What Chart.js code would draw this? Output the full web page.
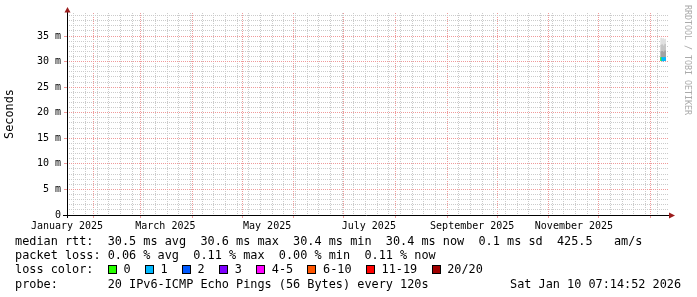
<!DOCTYPE html>
<html>
<head>
<meta charset="utf-8">
<script src="https://cdn.jsdelivr.net/npm/chart.js@4/dist/chart.umd.min.js"></script>
<style>
  html, body { margin: 0; padding: 0; background: #fff; }
  #wrap { position: relative; width: 697px; height: 297px; overflow: hidden; background: #fff; }
  #chart { position: absolute; left: 0; top: 0; }
  .lg { position: absolute; left: 15px; font-family: "DejaVu Sans Mono", monospace; font-size: 11.85px; line-height: 14px; white-space: pre; color: #000; }
  .box { display: inline-block; width: 9px; height: 9px; box-sizing: border-box; border: 1px solid #000; margin-right: 6.7px; vertical-align: -1px; }
  #wm { position: absolute; left: 683px; top: 5px; writing-mode: vertical-rl; font-family: "DejaVu Sans Mono", monospace; font-size: 8.3px; line-height: 9px; color: #aaa; white-space: pre; }
</style>
</head>
<body>
<div id="wrap">
  <canvas id="chart" width="697" height="297"></canvas>
  <div class="lg" style="top:234px">median rtt:  30.5 ms avg  30.6 ms max  30.4 ms min  30.4 ms now  0.1 ms sd  425.5   am/s</div>
  <div class="lg" style="top:248px">packet loss: 0.06 % avg  0.11 % max  0.00 % min  0.11 % now</div>
  <div class="lg" id="losscolor" style="top:262px">loss color:  </div>
  <div class="lg" style="top:277px">probe:       20 IPv6-ICMP Echo Pings (56 Bytes) every 120s</div>
  <div class="lg" style="top:277px; left:510px">Sat Jan 10 07:14:52 2026</div>
  <div id="wm">RRDTOOL / TOBI OETIKER</div>
</div>
<script>
// days counted from 2025-01-01
const monthStartDays = [31, 59, 90, 120, 151, 181, 212, 243, 273, 304, 334, 365];
const labelDays = [15, 74, 135, 196, 258, 319];
const labelTexts = ["January 2025", "March 2025", "May 2025", "July 2025", "September 2025", "November 2025"];

// smokeping samples (ms)
const sampleDays = [371.3, 371.9, 372.5, 373.1, 373.7];
const rttLow = [30.2, 30.3, 30.2, 30.3, 30.2];
const rttP75 = [31.9, 32.0, 31.8, 31.9, 32.1];
const rttP90 = [33.2, 33.3, 33.0, 33.1, 33.4];
const rttMax = [34.6, 34.3, 34.5, 34.2, 34.4];
const medianRtt = [30.5, 30.5, 30.4, 30.5, 30.5];
const lossCount = [0, 1, 1, 1, 1];

const lossNames = ["0", "1", "2", "3", "4-5", "6-10", "11-19", "20/20"];
const lossColors = ["#26ff00", "#00b8ff", "#0059ff", "#7e00ff", "#ff00ff", "#ff5500", "#ff0000", "#a00000"];

// loss color legend
const lc = document.getElementById("losscolor");
lossNames.forEach((name, i) => {
    const b = document.createElement("span");
    b.className = "box";
    b.style.background = lossColors[i];
    lc.appendChild(b);
    lc.appendChild(document.createTextNode(name + (i < lossNames.length - 1 ? "  " : "")));
});

const minorGrid = "#cbcbcb";
const majorGrid = "#f09a9a";
const clear = "rgba(0,0,0,0)";
const mono = "'DejaVu Sans Mono', monospace";

const xTicks = [];
for (let d = 19; d < 376; d += 7) {
    if (!monthStartDays.includes(d)) xTicks.push({ value: d });
}
monthStartDays.forEach(d => xTicks.push({ value: d }));
labelDays.forEach(d => xTicks.push({ value: d }));
xTicks.sort((a, b) => a.value - b.value);

const yTicks = [];
for (let v = 0; v <= 39; v++) yTicks.push({ value: v });

function xKind(v) {
    if (labelDays.includes(v)) return "label";
    return monthStartDays.includes(v) ? "major" : "minor";
}
function yKind(v) {
    return v !== null && v % 5 === 0 ? "major" : "minor";
}
const tv = c => (c.tick ? c.tick.value : null);
const xGrid = c => { const k = xKind(tv(c)); return k === "major" ? majorGrid : k === "minor" ? minorGrid : clear; };
const yGrid = c => (yKind(tv(c)) === "major" ? majorGrid : minorGrid);
const xTickCol = c => (xKind(tv(c)) === "major" ? majorGrid : clear);
const yTickCol = c => (yKind(tv(c)) === "major" ? majorGrid : clear);

const bar = (data, color, order) => ({
    data: data,
    backgroundColor: color,
    borderWidth: 0,
    barThickness: 1.05,
    grouped: false,
    order: order
});

const rrdAxes = {
    id: "rrdAxes",
    afterDraw(chart) {
        const { ctx, chartArea: a } = chart;
        ctx.save();
        ctx.strokeStyle = "#000";
        ctx.lineWidth = 1;
        ctx.beginPath();
        ctx.moveTo(a.left - 4, a.bottom + 0.5);
        ctx.lineTo(a.right + 1, a.bottom + 0.5);
        ctx.moveTo(a.left + 0.5, a.bottom + 3);
        ctx.lineTo(a.left + 0.5, a.top - 2);
        ctx.stroke();
        ctx.fillStyle = "#9b1c1c";
        ctx.beginPath();
        ctx.moveTo(a.right, a.bottom - 2.5);
        ctx.lineTo(a.right + 6, a.bottom + 0.5);
        ctx.lineTo(a.right, a.bottom + 3.5);
        ctx.fill();
        ctx.beginPath();
        ctx.moveTo(a.left - 2.5, a.top - 0.5);
        ctx.lineTo(a.left + 0.5, a.top - 6);
        ctx.lineTo(a.left + 3.5, a.top - 0.5);
        ctx.fill();
        ctx.restore();
    }
};

new Chart(document.getElementById("chart").getContext("2d"), {
    type: "bar",
    data: {
        datasets: [
            bar(sampleDays.map((d, i) => ({ x: d, y: [medianRtt[i] - 0.3, medianRtt[i] + 0.3] })),
                lossCount.map(c => lossColors[c]), 0),
            bar(sampleDays.map((d, i) => ({ x: d, y: [rttLow[i], rttP75[i]] })), "#a3a3a3", 1),
            bar(sampleDays.map((d, i) => ({ x: d, y: [rttP75[i], rttP90[i]] })), "#c6c6c6", 2),
            bar(sampleDays.map((d, i) => ({ x: d, y: [rttP90[i], rttMax[i]] })), "#e0e0e0", 3)
        ]
    },
    options: {
        responsive: false,
        animation: false,
        layout: { padding: { left: 0, top: 13, right: 28, bottom: 66 } },
        plugins: { legend: { display: false }, tooltip: { enabled: false } },
        scales: {
            x: {
                type: "linear",
                min: 15,
                max: 376,
                offset: false,
                afterBuildTicks: s => { s.ticks = xTicks.map(t => ({ ...t })); },
                afterFit: s => { s.height = 16; },
                grid: { offset: false, color: xGrid, tickColor: xTickCol, tickLength: 3, lineWidth: 1 },
                border: { display: false, dash: [1, 1] },
                ticks: {
                    autoSkip: false,
                    maxRotation: 0,
                    padding: 2,
                    color: "#000",
                    font: { family: mono, size: 10 },
                    callback: v => { const i = labelDays.indexOf(v); return i >= 0 ? labelTexts[i] : ""; }
                }
            },
            y: {
                min: 0,
                max: 39.5,
                afterBuildTicks: s => { s.ticks = yTicks.map(t => ({ ...t })); },
                afterFit: s => { s.width = 67; },
                grid: { offset: false, color: yGrid, tickColor: yTickCol, tickLength: 3, lineWidth: 1 },
                border: { display: false, dash: [1, 1] },
                title: { display: true, text: "Seconds", color: "#000", font: { family: mono, size: 11.85 }, padding: { top: 3, bottom: 0 } },
                ticks: {
                    autoSkip: false,
                    padding: 3,
                    color: "#000",
                    font: { family: mono, size: 10 },
                    callback: v => v % 5 !== 0 ? "" : (v === 0 ? "0" : v + " m")
                }
            }
        }
    },
    plugins: [rrdAxes]
});
</script>
</body>
</html>
